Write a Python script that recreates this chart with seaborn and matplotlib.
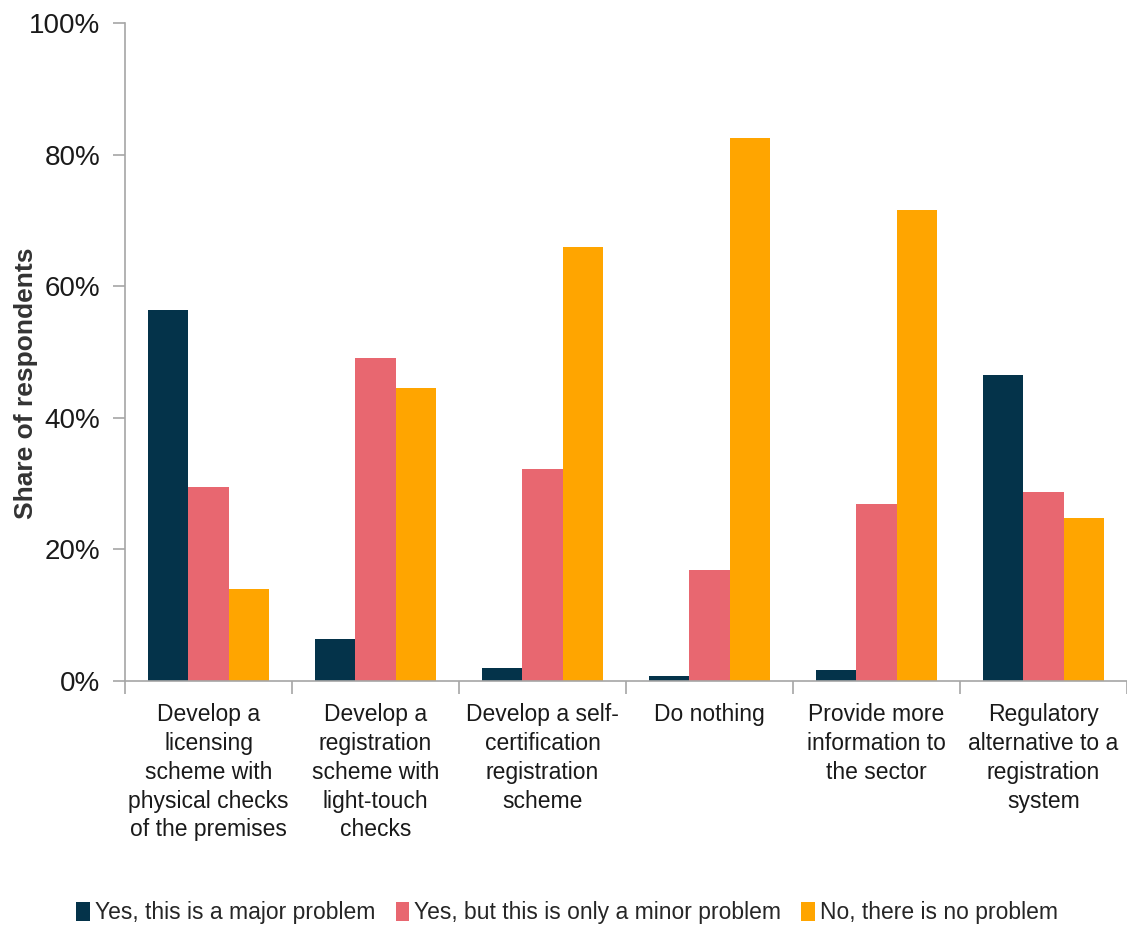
import matplotlib
matplotlib.use("Agg")
import matplotlib.pyplot as plt
import seaborn as sns
import pandas as pd
from matplotlib.ticker import FixedLocator, FuncFormatter
from matplotlib.patches import Patch

categories = [
    "Develop a\nlicensing\nscheme with\nphysical checks\nof the premises",
    "Develop a\nregistration\nscheme with\nlight-touch\nchecks",
    "Develop a self-\ncertification\nregistration\nscheme",
    "Do nothing",
    "Provide more\ninformation to\nthe sector",
    "Regulatory\nalternative to a\nregistration\nsystem",
]
series = [
    "Yes, this is a major problem",
    "Yes, but this is only a minor problem",
    "No, there is no problem",
]
major = [56.4, 6.4, 2.0, 0.8, 1.7, 46.5]
minor = [29.5, 49.1, 32.2, 16.9, 26.9, 28.7]
none_ = [14.0, 44.5, 66.0, 82.5, 71.6, 24.8]
colors = ["#04334A", "#E86770", "#FFA500"]

rows = []
for s, vals in zip(series, [major, minor, none_]):
    for c, v in zip(categories, vals):
        rows.append({"category": c, "series": s, "value": v})
df = pd.DataFrame(rows)

sns.set_style("white")
plt.rcParams["font.family"] = ["Liberation Sans", "DejaVu Sans"]

fig = plt.figure(figsize=(11.27, 9.25), dpi=100)
W, H = 1127, 925
ax = fig.add_axes([125 / W, (H - 681) / H, (1127 - 125) / W, (681 - 23) / H])

sns.barplot(data=df, x="category", y="value", hue="series", order=categories,
            hue_order=series, palette=colors, width=0.72, saturation=1,
            edgecolor="none", linewidth=0, legend=False, ax=ax)

ax.set_xlim(-0.5, len(categories) - 0.5)
ax.set_ylim(0, 100)
ax.set_yticks([0, 20, 40, 60, 80, 100])
ax.yaxis.set_major_formatter(FuncFormatter(lambda v, p: f"{int(v)}%"))
ax.tick_params(axis="y", which="major", length=9, width=1.2, color="#A6A6A6",
               labelsize=20, labelcolor="#1a1a1a", pad=9, left=True)

ax.xaxis.set_minor_locator(FixedLocator([i - 0.5 for i in range(len(categories) + 1)]))
ax.tick_params(axis="x", which="minor", length=9, width=1.2, color="#A6A6A6", bottom=True)
ax.tick_params(axis="x", which="major", length=0, labelsize=16.5, labelcolor="#1a1a1a", pad=16)
for lbl in ax.get_xticklabels():
    lbl.set_linespacing(1.32)
    lbl.set_verticalalignment("top")

ax.set_xlabel("")
ax.set_ylabel("Share of respondents", fontsize=19, fontweight="bold", color="#333333")
ax.yaxis.set_label_coords(-0.087, 0.453)

for side in ["top", "right"]:
    ax.spines[side].set_visible(False)
for side in ["left", "bottom"]:
    ax.spines[side].set_color("#A6A6A6")
    ax.spines[side].set_linewidth(1.2)

handles = [Patch(facecolor=c, edgecolor="none") for c in colors]
fig.legend(handles, series, loc="center", bbox_to_anchor=(567 / W, 1 - 913 / H),
           ncol=3, frameon=False, fontsize=16.5, handlelength=0.6, handleheight=0.9,
           handletextpad=0.2, columnspacing=0.9, borderaxespad=0)

fig.savefig("out.png", dpi=100)
